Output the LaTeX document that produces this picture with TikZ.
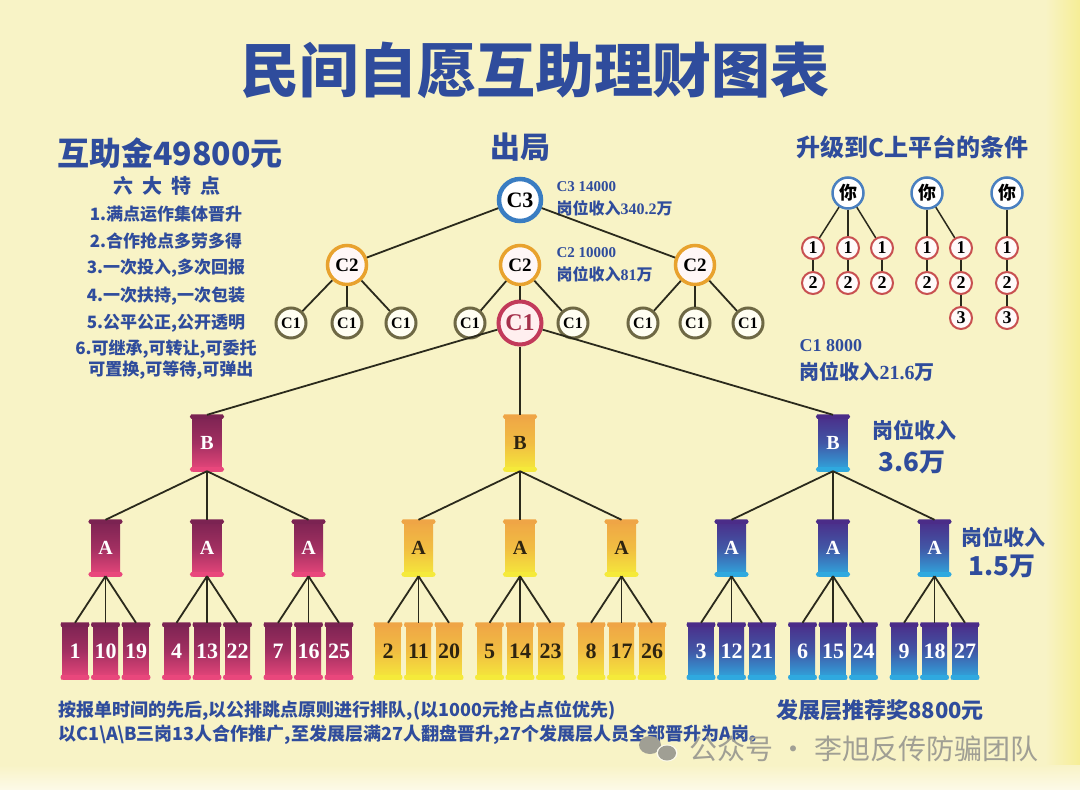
\documentclass[tikz,border=0pt]{standalone}
\usepackage{fontspec}
\setmainfont{Liberation Serif}
\newfontfamily\cjk{Noto Sans CJK SC}
\newcommand\fsz[1]{\fontsize{#1}{#1}\selectfont}
\definecolor{bg}{HTML}{F8F3C6}
\definecolor{bgedge}{HTML}{F6EE96}
\definecolor{ink}{HTML}{2F4C9C}
\definecolor{lne}{HTML}{2B2A1C}
\definecolor{pkT}{HTML}{7B2352}
\definecolor{pkB}{HTML}{E9477C}
\definecolor{ylT}{HTML}{EFA546}
\definecolor{ylB}{HTML}{F5EA3A}
\definecolor{buT}{HTML}{4B2C88}
\definecolor{buB}{HTML}{2FA9DF}
\definecolor{ydark}{HTML}{2E2410}
\definecolor{c3ring}{HTML}{3A7DC2}
\definecolor{c2ring}{HTML}{E8A22E}
\definecolor{c1ring}{HTML}{6E6844}
\definecolor{redring}{HTML}{C23A5A}
\definecolor{youring}{HTML}{4A80C0}
\definecolor{numring}{HTML}{C85050}
\definecolor{wm}{HTML}{A09F94}
% flared scroll ends: node, top colour, bottom colour, overhang
\newcommand\flr[4]{%
 \fill[#2] ([xshift=-#4,yshift=-2pt]#1.north west) -- ([xshift=-1pt,yshift=0.5pt]#1.north west) -- ([xshift=1pt,yshift=0.5pt]#1.north east) -- ([xshift=#4,yshift=-2pt]#1.north east) -- ([xshift=1pt,yshift=-4pt]#1.north east) -- ([xshift=-1pt,yshift=-4pt]#1.north west) -- cycle;
 \fill[#3] ([xshift=-#4,yshift=2pt]#1.south west) -- ([xshift=-1pt,yshift=-0.5pt]#1.south west) -- ([xshift=1pt,yshift=-0.5pt]#1.south east) -- ([xshift=#4,yshift=2pt]#1.south east) -- ([xshift=1pt,yshift=4pt]#1.south east) -- ([xshift=-1pt,yshift=4pt]#1.south west) -- cycle;
}
\begin{document}
\begin{tikzpicture}[x=1pt,y=-1pt,
  link/.style={draw=lne, line width=1.8pt},
  ctext/.style={text=ink, font=\cjk\bfseries\fsz{#1}},
  ltext/.style={text=ink, font=\bfseries\fsz{#1}},
  banner/.style 2 args={rectangle, inner sep=0pt, minimum width=29pt, minimum height=56pt,
     top color=#1, bottom color=#2, middle color=#1!65!#2, font=\bfseries\fsz{20}},
  box/.style 2 args={rectangle, inner sep=0pt, minimum width=25pt, minimum height=56pt,
     top color=#1, bottom color=#2, middle color=#1!65!#2, font=\bfseries\fsz{22}},
  c3/.style={circle, draw=c3ring, line width=4.5pt, fill=white, minimum size=42pt, inner sep=0pt, font=\bfseries\fsz{22}},
  c2/.style={circle, draw=c2ring, line width=3.5pt, fill=pink!12!white, minimum size=39pt, inner sep=0pt, font=\bfseries\fsz{19}},
  c1/.style={circle, draw=c1ring, line width=3pt, fill=white!95!yellow, minimum size=30pt, inner sep=0pt, font=\bfseries\fsz{16}},
  c1big/.style={circle, draw=redring, line width=4pt, fill=pink!25!white, minimum size=43pt, inner sep=0pt, text=redring!85!black, font=\bfseries\fsz{24}},
  you/.style={circle, draw=youring, line width=2.5pt, fill=white, minimum size=31pt, inner sep=0pt, font=\cjk\bfseries\fsz{18}},
  num/.style={circle, draw=numring, line width=2pt, fill=white!92!pink, minimum size=22pt, inner sep=0pt, font=\bfseries\fsz{18}},
]
\fill[bg] (0,0) rectangle (1080,790);
\shade[left color=bg, right color=bgedge] (1045,0) rectangle (1080,790);
\shade[top color=bg, bottom color=white!60!bg] (0,765) rectangle (1080,790);
\useasboundingbox (0,0) rectangle (1080,790);

% title
\node[ctext=59] (title) at (535,70) {民间自愿互助理财图表};

% left column
\node[ctext=32] (amount) at (170,153) {互助金49800元};
\node[ctext=20] (six) at (167,186) {六\hspace{9pt}大\hspace{9pt}特\hspace{9pt}点};
\node[ctext=17] (f1) at (166,214) {1.满点运作集体晋升};
\node[ctext=17] (f2) at (166,241) {2.合作抢点多劳多得};
\node[ctext=17] (f3) at (166,268) {3.一次投入,多次回报};
\node[ctext=17] (f4) at (166,296) {4.一次扶持,一次包装};
\node[ctext=17] (f5) at (166,323) {5.公平公正,公开透明};
\node[text=ink, font=\cjk\bfseries\fontsize{17}{21}\selectfont, align=left] (f6) at (166,360) {6.可继承,可转让,可委托\\\hspace{13pt}可置换,可等待,可弹出};

% C tree
\node[ctext=30] (out) at (520,147) {出局};
\node[c3] (c3) at (520,200) {C3};
\node[ltext=15, anchor=west] (c3a) at (553,187) {C3 14000};
\node[ltext=16, anchor=west] (c3b) at (553,208) {{\cjk 岗位收入}340.2{\cjk 万}};

\node[c2] (c2l) at (347,265) {C2};
\node[c2] (c2m) at (520,265) {C2};
\node[c2] (c2r) at (695,265) {C2};
\node[ltext=15, anchor=west] (c2a) at (553,253) {C2 10000};
\node[ltext=16, anchor=west] (c2b) at (553,274) {{\cjk 岗位收入}81{\cjk 万}};

\node[c1] (c1a) at (291,323) {C1};
\node[c1] (c1b) at (347,323) {C1};
\node[c1] (c1c) at (401,323) {C1};
\node[c1] (c1d) at (470,323) {C1};
\node[c1big] (c1m) at (520,323) {C1};
\node[c1] (c1e) at (573,323) {C1};
\node[c1] (c1f) at (643,323) {C1};
\node[c1] (c1g) at (695,323) {C1};
\node[c1] (c1h) at (748,323) {C1};

\draw[link] (c3) -- (c2l);
\draw[link] (c3) -- (c2r);
\foreach \a/\b in {c2l/c1a, c2l/c1b, c2l/c1c, c2m/c1d, c2m/c1m, c2m/c1e, c2r/c1f, c2r/c1g, c2r/c1h}
  \draw[link] (\a) -- (\b);

% right: conditions
\node[ctext=24] (cond) at (912,147) {升级到C上平台的条件};
\node[you] (y1) at (848,193) {你};
\node[you] (y2) at (927,193) {你};
\node[you] (y3) at (1007,193) {你};
\node[num] (p1a) at (813,248) {1};
\node[num] (p1b) at (813,283) {2};
\node[num] (p2a) at (848,248) {1};
\node[num] (p2b) at (848,283) {2};
\node[num] (p3a) at (882,248) {1};
\node[num] (p3b) at (882,283) {2};
\node[num] (q1a) at (927,248) {1};
\node[num] (q1b) at (927,283) {2};
\node[num] (q2a) at (961,248) {1};
\node[num] (q2b) at (961,283) {2};
\node[num] (q2c) at (961,318) {3};
\node[num] (r1a) at (1007,248) {1};
\node[num] (r1b) at (1007,283) {2};
\node[num] (r1c) at (1007,318) {3};
\foreach \a/\b in {y1/p1a, y1/p2a, y1/p3a, p1a/p1b, p2a/p2b, p3a/p3b, y2/q1a, y2/q2a, q1a/q1b, q2a/q2b, q2b/q2c, y3/r1a, r1a/r1b, r1b/r1c}
  \draw[link, line width=1.5pt] (\a) -- (\b);

\node[ltext=18, anchor=west] (c1lab) at (796,346) {C1 8000};
\node[ltext=20, anchor=west] (c1inc) at (796,372) {{\cjk 岗位收入}21.6{\cjk 万}};

% B / A / numbered banners
\foreach \col/\bx/\tc/\bc/\tx in {0/207/pkT/pkB/white, 1/520/ylT/ylB/ydark, 2/833/buT/buB/white}{
  \node[banner={\tc}{\bc}, text=\tx] (B\col) at (\bx,443) {B};
  \flr{B\col}{\tc}{\bc}{2.5pt}
  \draw[link] (c1m) -- (B\col.north);
  \foreach \grp in {0,1,2}{
    \pgfmathsetmacro\ax{\bx+(\grp-1)*101.5}
    \node[banner={\tc}{\bc}, text=\tx] (A\col\grp) at (\ax,548) {A};
    \flr{A\col\grp}{\tc}{\bc}{2.5pt}
    \draw[link] (B\col.south) -- (A\col\grp.north);
    \foreach \pos in {0,1,2}{
      \pgfmathsetmacro\nx{\ax+(\pos-1)*30.5}
      \pgfmathtruncatemacro\num{1+\col+3*\grp+9*\pos}
      \node[box={\tc}{\bc}, text=\tx] (N\num) at (\nx,651) {\num};
      \flr{N\num}{\tc}{\bc}{1.8pt}
      \draw[link] (A\col\grp.south) -- (N\num.north);
    }
  }
}

% income labels
\node[ctext=21] (binc) at (914,430) {岗位收入};
\node[ctext=26] (bval) at (912,462) {3.6万};
\node[ctext=21] (ainc) at (1003,537) {岗位收入};
\node[ctext=26] (aval) at (1002,566) {1.5万};

% bottom text
\node[ctext=18, anchor=west] (rule1) at (55,711) {按报单时间的先后,以公排跳点原则进行排队,(以1000元抢占点位优先)};
\node[ctext=18, anchor=west] (rule2) at (55,735) {以C1\textbackslash A\textbackslash B三岗13人合作推广,至发展层满27人翻盘晋升,27个发展层人员全部晋升为A岗。};
\node[ctext=22] (award) at (880,710) {发展层推荐奖8800元};

% watermark
\fill[wm] (650,745) ellipse [x radius=11pt, y radius=9pt];
\fill[white!70!bg] (667,753) ellipse [x radius=10.5pt, y radius=8.5pt];
\fill[wm] (667,753) ellipse [x radius=9pt, y radius=7.5pt];
\node[text=wm, font=\cjk\fsz{28}, anchor=west] (wmark) at (686,749) {公众号 · 李旭反传防骗团队};
\end{tikzpicture}
\end{document}
